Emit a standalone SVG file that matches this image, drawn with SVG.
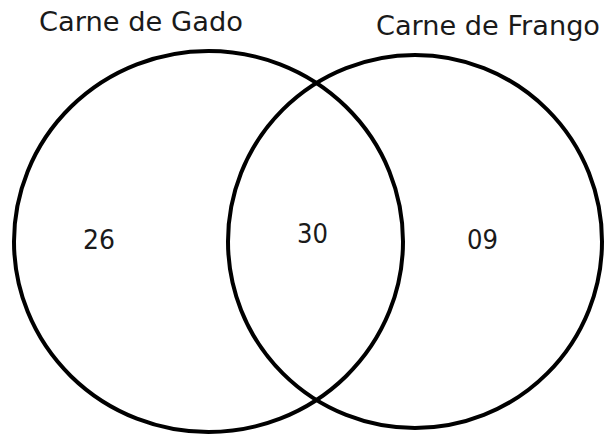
<svg xmlns="http://www.w3.org/2000/svg" width="605" height="436" viewBox="0 0 605 436">
<style>
.c{fill:none;stroke:#000;stroke-width:4}
.t{font-family:"DejaVu Sans","Verdana",sans-serif;font-size:26px;fill:#1a1a1a}
</style>
<rect width="605" height="436" fill="#fff"/>
<g id="set-gado">
<ellipse class="c" cx="208.5" cy="241.5" rx="194.5" ry="190.5"/>
<text class="t" x="39" y="31" textLength="204" lengthAdjust="spacingAndGlyphs">Carne de Gado</text>
<text class="t" x="83" y="249" textLength="32" lengthAdjust="spacingAndGlyphs">26</text>
</g>
<g id="set-frango">
<ellipse class="c" cx="415" cy="241.5" rx="187" ry="186.5"/>
<text class="t" x="376" y="35" textLength="224" lengthAdjust="spacingAndGlyphs">Carne de Frango</text>
<text class="t" x="467" y="249" textLength="31" lengthAdjust="spacingAndGlyphs">09</text>
</g>
<g id="intersection">
<text class="t" x="297" y="243" textLength="31" lengthAdjust="spacingAndGlyphs">30</text>
</g>
<g id="connectors"></g>
</svg>
